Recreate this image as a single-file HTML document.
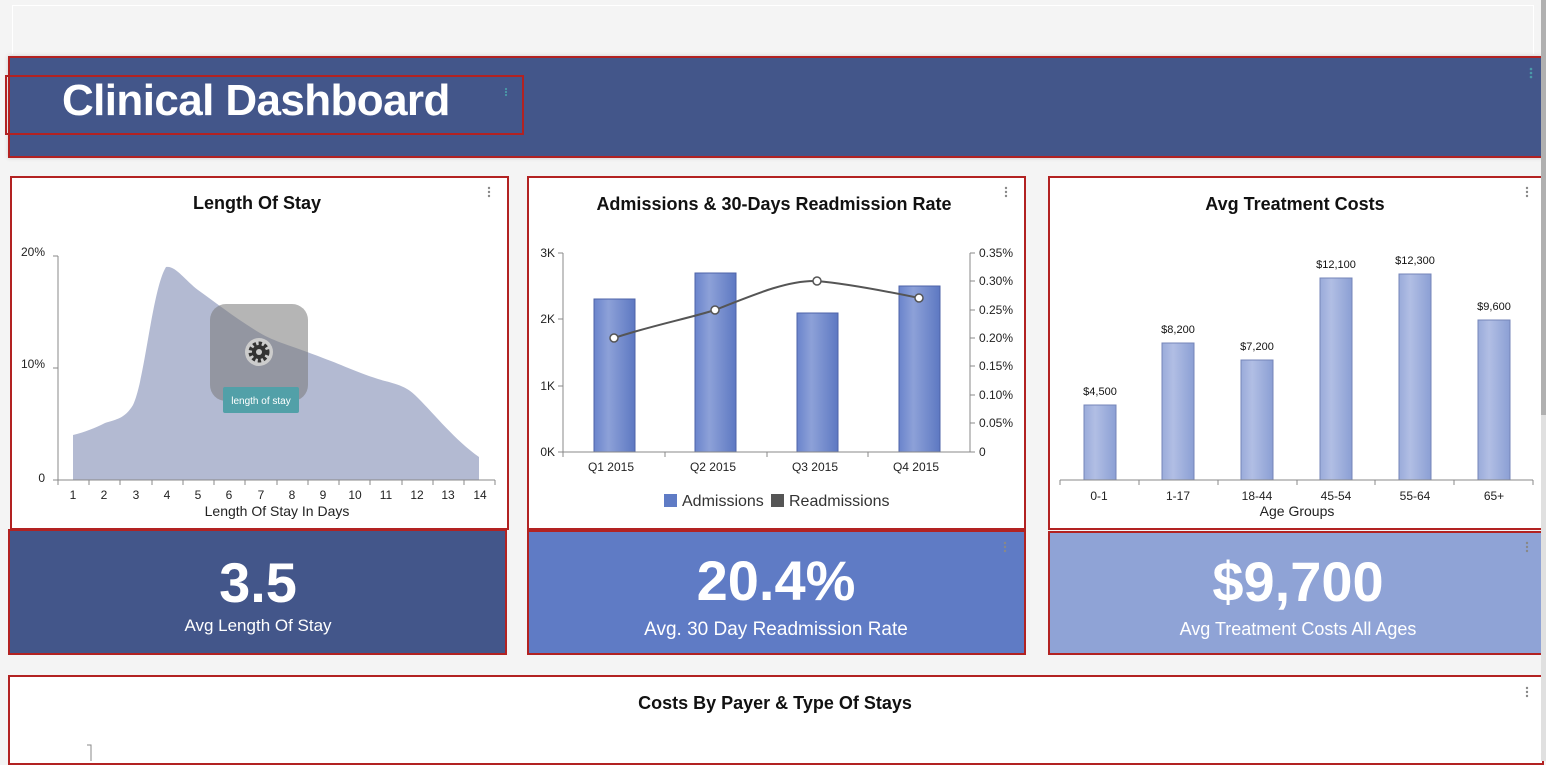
<!DOCTYPE html>
<html><head><meta charset="utf-8"><style>
*{margin:0;padding:0;box-sizing:border-box}
body{width:1546px;height:761px;overflow:hidden;background:#f4f4f4;font-family:"Liberation Sans",sans-serif;position:relative}
.a{position:absolute}
.p{position:absolute;border:2px solid #b22222;background:#fff}
</style></head><body>
<div class="a" style="left:12px;top:5px;width:1522px;height:49px;border:1px solid #fff;border-bottom:none"></div>
<div class="p" style="left:8px;top:56px;width:1535px;height:102px;background:#43568a;box-shadow:0 0 4px #ccc"></div>
<div class="a" style="left:5px;top:75px;width:519px;height:60px;border:2px solid #b22222"></div>
<div class="a" style="left:62px;top:76px;font-size:44px;font-weight:bold;color:#fff;letter-spacing:-0.6px">Clinical Dashboard</div>
<div class="p" style="left:10px;top:176px;width:499px;height:354px"></div>
<div class="p" style="left:527px;top:176px;width:499px;height:354px"></div>
<div class="p" style="left:1048px;top:176px;width:496px;height:354px"></div>
<div class="p" style="left:8px;top:529px;width:499px;height:126px;background:#43568a"></div>
<div class="p" style="left:527px;top:530px;width:499px;height:125px;background:#5f7bc5"></div>
<div class="p" style="left:1048px;top:531px;width:496px;height:124px;background:#8fa3d6"></div>
<div class="p" style="left:8px;top:675px;width:1536px;height:90px"></div>
<div class="a" style="left:1541px;top:0;width:5px;height:761px;background:#e0e0e0"></div>
<div class="a" style="left:1541px;top:0;width:5px;height:415px;background:#b0b0b0"></div>
<svg class="a" style="left:0;top:0" width="1546" height="761" font-family="Liberation Sans, sans-serif">
<defs><linearGradient id="g1" x1="0" x2="1"><stop offset="0" stop-color="#6a84cc"/><stop offset=".35" stop-color="#8da1d8"/><stop offset="1" stop-color="#5d78c2"/></linearGradient>
<linearGradient id="g2" x1="0" x2="1"><stop offset="0" stop-color="#9aabda"/><stop offset=".35" stop-color="#b1bee4"/><stop offset="1" stop-color="#8b9fd4"/></linearGradient></defs>
<g fill="#888"><circle cx="489" cy="188" r="1.2"/><circle cx="489" cy="192" r="1.2"/><circle cx="489" cy="196" r="1.2"/>
<circle cx="1006" cy="188" r="1.2"/><circle cx="1006" cy="192" r="1.2"/><circle cx="1006" cy="196" r="1.2"/>
<circle cx="1527" cy="188" r="1.2"/><circle cx="1527" cy="192" r="1.2"/><circle cx="1527" cy="196" r="1.2"/>
<circle cx="1527" cy="543" r="1.2"/><circle cx="1527" cy="547" r="1.2"/><circle cx="1527" cy="551" r="1.2"/>
<circle cx="1005" cy="543" r="1.2"/><circle cx="1005" cy="547" r="1.2"/><circle cx="1005" cy="551" r="1.2"/>
<circle cx="1527" cy="688" r="1.2"/><circle cx="1527" cy="692" r="1.2"/><circle cx="1527" cy="696" r="1.2"/></g>
<g fill="#4a9aa8"><circle cx="506" cy="89" r="1.1"/><circle cx="506" cy="92" r="1.1"/><circle cx="506" cy="95" r="1.1"/>
<circle cx="1531" cy="69" r="1.3"/><circle cx="1531" cy="73" r="1.3"/><circle cx="1531" cy="77" r="1.3"/></g>
<text x="257" y="209" text-anchor="middle" font-size="18" font-weight="bold" fill="#111">Length Of Stay</text>
<path d="M73,435 C85,432 95,428 105,423 C118,419 125,418 133,405 C145,380 152,290 166,267 C175,265 185,280 198,290 C215,302 235,318 260,333 C275,342 290,345 323,358 C345,366 360,374 385,381 C405,386 410,390 418,398 C435,415 455,440 479,457 L479,480 L73,480 Z" fill="#b3bad2"/>
<g stroke="#888" fill="none"><path d="M58,256 V480 H495"/><path d="M53,256H58M53,368H58M53,480H58"/>
<path d="M58,480v5M89,480v5M120,480v5M152,480v5M183,480v5M214,480v5M245,480v5M277,480v5M308,480v5M339,480v5M370,480v5M402,480v5M433,480v5M464,480v5M495,480v5"/></g>
<g font-size="12" fill="#222"><text x="45" y="256" text-anchor="end">20%</text><text x="45" y="368" text-anchor="end">10%</text><text x="45" y="482" text-anchor="end">0</text>
<g text-anchor="middle"><text x="73" y="499">1</text><text x="104" y="499">2</text><text x="136" y="499">3</text><text x="167" y="499">4</text><text x="198" y="499">5</text><text x="229" y="499">6</text><text x="261" y="499">7</text><text x="292" y="499">8</text><text x="323" y="499">9</text><text x="355" y="499">10</text><text x="386" y="499">11</text><text x="417" y="499">12</text><text x="448" y="499">13</text><text x="480" y="499">14</text>
<text x="277" y="516" font-size="14">Length Of Stay In Days</text></g></g>
<rect x="210" y="304" width="98" height="97" rx="16" fill="rgba(120,120,120,0.55)"/>
<circle cx="259" cy="352" r="14" fill="#ccc"/><circle cx="259" cy="352" r="8" fill="none" stroke="#333" stroke-width="5" stroke-dasharray="3 2.3"/><circle cx="259" cy="352" r="7" fill="#333"/><circle cx="259" cy="352" r="3" fill="#ccc"/>
<rect x="223" y="387" width="76" height="26" rx="2" fill="#52a0a8"/>
<text x="261" y="404" text-anchor="middle" font-size="10" fill="#fff">length of stay</text>
<text x="774" y="210" text-anchor="middle" font-size="18" font-weight="bold" fill="#111">Admissions &amp; 30-Days Readmission Rate</text>
<g fill="url(#g1)" stroke="#4e63a8"><rect x="594" y="299" width="41" height="153"/><rect x="695" y="273" width="41" height="179"/><rect x="797" y="313" width="41" height="139"/><rect x="899" y="286" width="41" height="166"/></g>
<g stroke="#888" fill="none"><path d="M563,253V452H970V253"/><path d="M558,253h5M558,319h5M558,386h5M558,452h5"/>
<path d="M970,253h5M970,281h5M970,310h5M970,338h5M970,366h5M970,395h5M970,423h5M970,452h5M665,452v5M767,452v5M868,452v5M563,452v5"/></g>
<path d="M614,338 C650,326 690,318 715,310 C760,292 790,280 817,281 C850,284 890,292 919,298" stroke="#555" stroke-width="2" fill="none"/>
<g fill="#fff" stroke="#555" stroke-width="1.5"><circle cx="614" cy="338" r="4"/><circle cx="715" cy="310" r="4"/><circle cx="817" cy="281" r="4"/><circle cx="919" cy="298" r="4"/></g>
<g font-size="12" fill="#222"><g text-anchor="end"><text x="555" y="257">3K</text><text x="555" y="323">2K</text><text x="555" y="390">1K</text><text x="555" y="456">0K</text></g>
<g><text x="979" y="257">0.35%</text><text x="979" y="285">0.30%</text><text x="979" y="314">0.25%</text><text x="979" y="342">0.20%</text><text x="979" y="370">0.15%</text><text x="979" y="399">0.10%</text><text x="979" y="427">0.05%</text><text x="979" y="456">0</text></g>
<g text-anchor="middle"><text x="611" y="471">Q1 2015</text><text x="713" y="471">Q2 2015</text><text x="815" y="471">Q3 2015</text><text x="916" y="471">Q4 2015</text></g></g>
<rect x="664" y="494" width="13" height="13" fill="#5f7bc5"/><text x="682" y="506" font-size="16" fill="#333">Admissions</text>
<rect x="771" y="494" width="13" height="13" fill="#555"/><text x="789" y="506" font-size="16" fill="#333">Readmissions</text>
<text x="1295" y="210" text-anchor="middle" font-size="18" font-weight="bold" fill="#111">Avg Treatment Costs</text>
<g fill="url(#g2)" stroke="#7585b8"><rect x="1084" y="405" width="32" height="75"/><rect x="1162" y="343" width="32" height="137"/><rect x="1241" y="360" width="32" height="120"/><rect x="1320" y="278" width="32" height="202"/><rect x="1399" y="274" width="32" height="206"/><rect x="1478" y="320" width="32" height="160"/></g>
<g stroke="#888" fill="none"><path d="M1060,480H1533"/><path d="M1060,480v5M1139,480v5M1218,480v5M1297,480v5M1375,480v5M1454,480v5M1533,480v5"/></g>
<g font-size="11" fill="#111" text-anchor="middle"><text x="1100" y="395">$4,500</text><text x="1178" y="333">$8,200</text><text x="1257" y="350">$7,200</text><text x="1336" y="268">$12,100</text><text x="1415" y="264">$12,300</text><text x="1494" y="310">$9,600</text></g>
<g font-size="12" fill="#222" text-anchor="middle"><text x="1099" y="500">0-1</text><text x="1178" y="500">1-17</text><text x="1257" y="500">18-44</text><text x="1336" y="500">45-54</text><text x="1415" y="500">55-64</text><text x="1494" y="500">65+</text><text x="1297" y="516" font-size="14">Age Groups</text></g>
<g fill="#fff" text-anchor="middle"><text x="258" y="602" font-size="56" font-weight="bold">3.5</text><text x="258" y="631" font-size="17">Avg Length Of Stay</text>
<text x="776" y="600" font-size="56" font-weight="bold">20.4%</text><text x="776" y="635" font-size="19">Avg. 30 Day Readmission Rate</text>
<text x="1298" y="601" font-size="56" font-weight="bold">$9,700</text><text x="1298" y="635" font-size="18">Avg Treatment Costs All Ages</text></g>
<text x="775" y="709" text-anchor="middle" font-size="18" font-weight="bold" fill="#111">Costs By Payer &amp; Type Of Stays</text>
<path d="M87,745H91V761" stroke="#888" fill="none"/>
</svg>
</body></html>
